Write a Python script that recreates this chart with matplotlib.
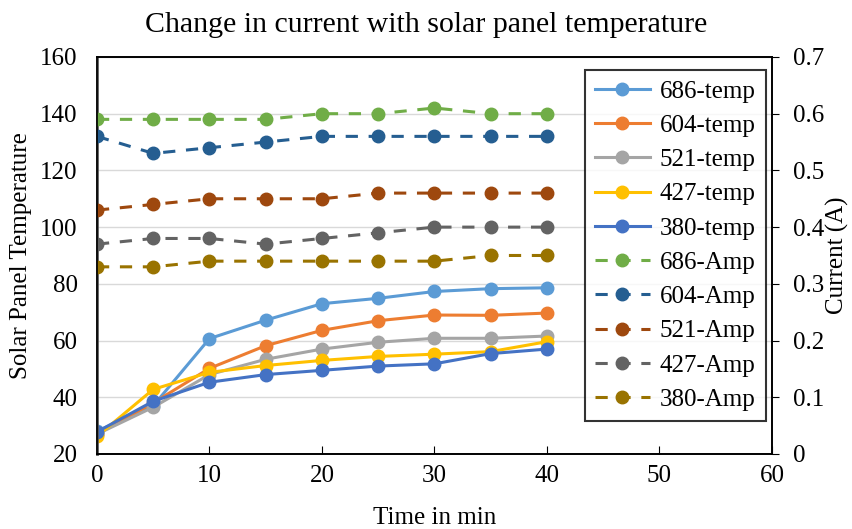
import matplotlib
matplotlib.use("Agg")
import matplotlib.pyplot as plt

plt.rcParams['font.family'] = ['Liberation Serif', 'DejaVu Serif']

time_min = [0, 5, 10, 15, 20, 25, 30, 35, 40]

temp_686 = [28, 37, 60.7, 67.2, 73, 74.9, 77.3, 78.3, 78.6]
temp_604 = [27, 38, 50.2, 58.2, 63.6, 67, 69, 68.9, 69.7]
temp_521 = [27, 36.5, 48, 53.4, 57, 59.4, 60.8, 60.8, 61.6]
temp_427 = [26.2, 42.8, 48.8, 51.2, 53, 54.4, 55.2, 56.1, 59.6]
temp_380 = [27.8, 38.6, 45.3, 48, 49.5, 51, 51.8, 55.4, 57]

amp_686 = [0.59, 0.59, 0.59, 0.59, 0.60, 0.60, 0.61, 0.60, 0.60]
amp_604 = [0.56, 0.53, 0.54, 0.55, 0.56, 0.56, 0.56, 0.56, 0.56]
amp_521 = [0.43, 0.44, 0.45, 0.45, 0.45, 0.46, 0.46, 0.46, 0.46]
amp_427 = [0.37, 0.38, 0.38, 0.37, 0.38, 0.39, 0.40, 0.40, 0.40]
amp_380 = [0.33, 0.33, 0.34, 0.34, 0.34, 0.34, 0.34, 0.35, 0.35]

temp_series = [("686-temp", temp_686, '#5B9BD5'), ("604-temp", temp_604, '#ED7D31'),
               ("521-temp", temp_521, '#A5A5A5'), ("427-temp", temp_427, '#FFC000'),
               ("380-temp", temp_380, '#4472C4')]
amp_series = [("686-Amp", amp_686, '#70AD47'), ("604-Amp", amp_604, '#255E91'),
              ("521-Amp", amp_521, '#9E480E'), ("427-Amp", amp_427, '#636363'),
              ("380-Amp", amp_380, '#997300')]

fig = plt.figure(figsize=(8.53, 5.29), dpi=100)
ax = fig.add_axes([0.1137, 0.1418, 0.7913, 0.7505])
ax2 = ax.twinx()

handles = []
for label, vals, col in temp_series:
    h, = ax.plot(time_min, vals, color=col, lw=2.2, marker='o', ms=9, label=label)
    handles.append(h)
for label, vals, col in amp_series:
    h, = ax2.plot(time_min, vals, color=col, lw=2.2, ls=(0, (4, 3.5)), marker='o', ms=9, label=label)
    handles.append(h)

ax.set_xlim(0, 60)
ax.set_ylim(20, 160)
ax.set_yticks(range(20, 161, 20))
ax.set_xticks(range(0, 61, 10))
ax2.set_ylim(0, 0.7)
ax2.set_yticks([0, 0.1, 0.2, 0.3, 0.4, 0.5, 0.6, 0.7])
ax2.set_yticklabels(['0', '0.1', '0.2', '0.3', '0.4', '0.5', '0.6', '0.7'])

ax.grid(axis='y', color='#D9D9D9', lw=1)
ax.set_axisbelow(True)

for a in (ax, ax2):
    for s in a.spines.values():
        s.set_color('black')
        s.set_linewidth(1.2)
ax.spines['left'].set_color('#595959')
ax.spines['left'].set_linewidth(2)
ax.tick_params(axis='y', length=0, labelsize=18, pad=14)
ax.tick_params(axis='x', direction='in', length=6, labelsize=18, pad=8, color='black')
ax2.tick_params(axis='y', direction='out', length=5, labelsize=18, pad=10)

ax.set_xlabel("Time in min", fontsize=18, labelpad=14)
ax.set_ylabel("Solar Panel Temperature", fontsize=18, labelpad=6)
ax2.set_ylabel("Current (A)", fontsize=18, labelpad=1)
fig.suptitle("Change in current with solar panel temperature", fontsize=21.5, y=0.978)

leg = ax2.legend(handles=handles, loc='upper left', bbox_to_anchor=(0.723, 0.967),
                 fontsize=18, frameon=True, fancybox=False, edgecolor='black',
                 handlelength=2.2, labelspacing=0.47, borderpad=0.4, handletextpad=0.4,
                 borderaxespad=0)
leg.get_frame().set_linewidth(1.5)

fig.savefig("out.png", dpi=100)
